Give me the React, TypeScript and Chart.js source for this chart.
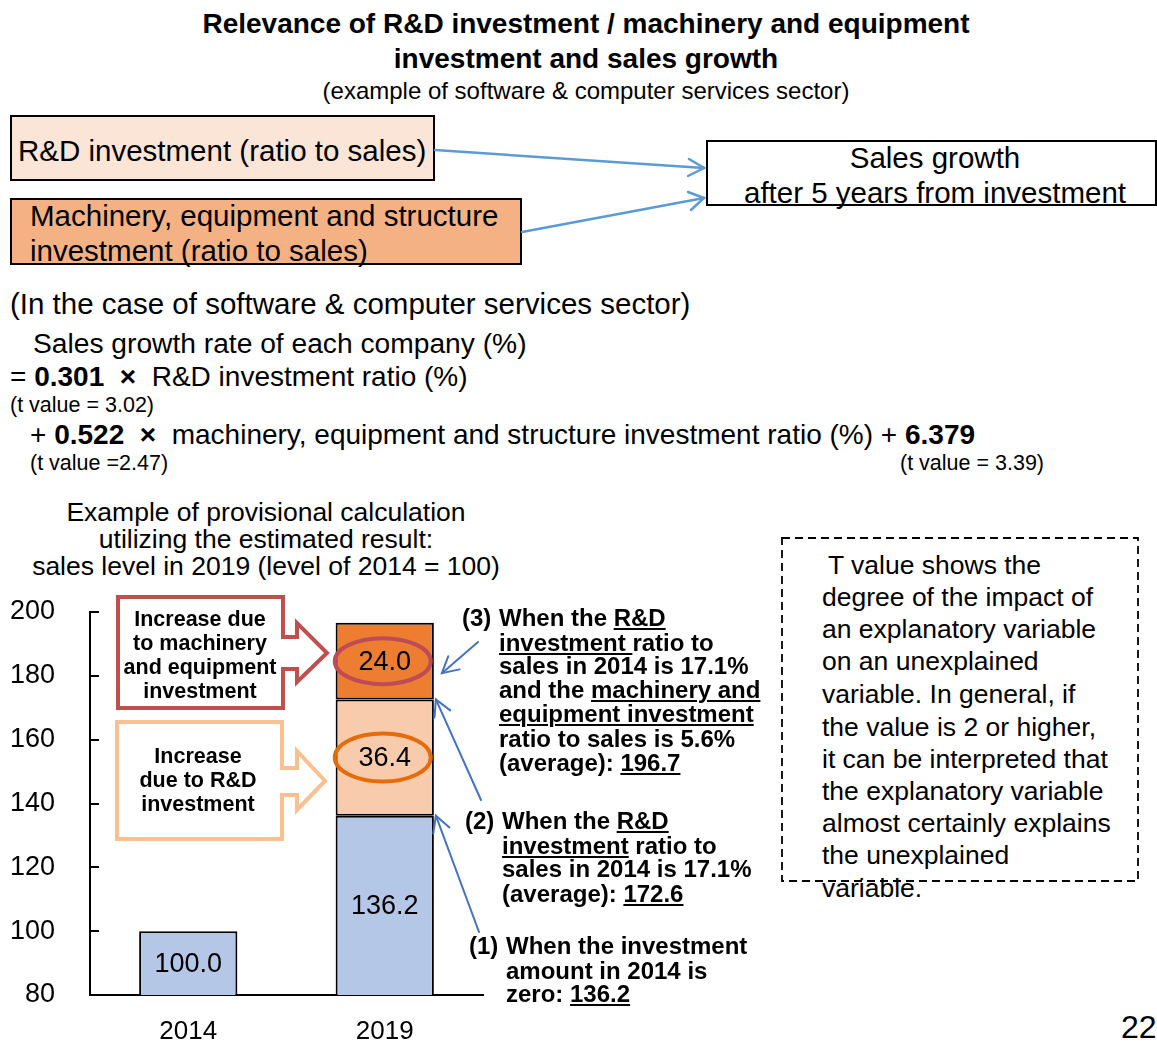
import React, { useEffect, useRef } from "react";
import { Chart, registerables } from "chart.js";

Chart.register(...registerables);

// ---------- data ----------
const categories = ["2014", "2019"];
const baseValues: (number | null)[] = [100.0, 136.2];
const rdIncrease: (number | null)[] = [null, 36.4];
const machineryIncrease: (number | null)[] = [null, 24.0];
const yTickValues = [80, 100, 120, 140, 160, 180, 200];

const FONT = '"Liberation Sans", Arial, Helvetica, sans-serif';
const OY = 590; // canvas top on the page
const CW = 780;
const CH = 460;

type LineProps = {
  x: number;
  y: number;
  size: number;
  bold?: boolean;
  center?: boolean;
  children: React.ReactNode;
};

function Line({ x, y, size, bold, center, children }: LineProps) {
  const lh = Math.round(size * 1.2);
  const style: React.CSSProperties = {
    position: "absolute",
    top: y - lh / 2,
    left: center ? x - 600 : x,
    width: center ? 1200 : undefined,
    textAlign: center ? "center" : "left",
    fontFamily: FONT,
    fontSize: size,
    fontWeight: bold ? 700 : 400,
    lineHeight: lh + "px",
    whiteSpace: "pre",
    color: "#000",
  };
  return <div style={style}>{children}</div>;
}

const U = ({ children }: { children: React.ReactNode }) => (
  <span style={{ textDecoration: "underline", textDecorationThickness: "2px", textUnderlineOffset: "2px" }}>{children}</span>
);
const B = ({ children }: { children: React.ReactNode }) => <span style={{ fontWeight: 700 }}>{children}</span>;

function drawArrow(ctx: CanvasRenderingContext2D, x1: number, y1: number, x2: number, y2: number, head: number, color: string, width: number) {
  ctx.save();
  ctx.strokeStyle = color;
  ctx.lineWidth = width;
  ctx.lineCap = "round";
  ctx.beginPath();
  ctx.moveTo(x1, y1);
  ctx.lineTo(x2, y2);
  ctx.stroke();
  const a = Math.atan2(y2 - y1, x2 - x1);
  const sp = 0.5;
  ctx.beginPath();
  ctx.moveTo(x2 - head * Math.cos(a - sp), y2 - head * Math.sin(a - sp));
  ctx.lineTo(x2, y2);
  ctx.lineTo(x2 - head * Math.cos(a + sp), y2 - head * Math.sin(a + sp));
  ctx.stroke();
  ctx.restore();
}

function drawCallout(ctx: CanvasRenderingContext2D, pts: number[][], color: string) {
  ctx.save();
  ctx.beginPath();
  pts.forEach((p, i) => (i === 0 ? ctx.moveTo(p[0], p[1] - OY) : ctx.lineTo(p[0], p[1] - OY)));
  ctx.closePath();
  ctx.fillStyle = "#fff";
  ctx.fill();
  ctx.strokeStyle = color;
  ctx.lineWidth = 4;
  ctx.lineJoin = "miter";
  ctx.stroke();
  ctx.restore();
}

const annotationPlugin = {
  id: "annotations",
  afterDatasetsDraw(chart: any) {
    const ctx: CanvasRenderingContext2D = chart.ctx;
    const ys = chart.scales.y;
    const area = chart.chartArea;

    // inward tick marks
    ctx.save();
    ctx.strokeStyle = "#000";
    ctx.lineWidth = 2;
    yTickValues.forEach((v, i) => {
      if (i === 0) return;
      const py = Math.round(ys.getPixelForValue(v));
      ctx.beginPath();
      ctx.moveTo(area.left, py);
      ctx.lineTo(area.left + 9, py);
      ctx.stroke();
    });
    ctx.restore();

    // callout boxes with arrows
    drawCallout(
      ctx,
      [[118, 597], [283, 597], [283, 637], [297, 637], [297, 623], [327, 653], [297, 682], [297, 669], [283, 669], [283, 708], [118, 708]],
      "#C0504D"
    );
    drawCallout(
      ctx,
      [[117, 722], [282, 722], [282, 768], [297, 768], [297, 751], [325, 781], [297, 810], [297, 795], [282, 795], [282, 839], [117, 839]],
      "#FAC090"
    );

    const mid = (el: any) => (el.y + Math.min(el.base, area.bottom)) / 2;

    // ellipses around increments
    const m1 = chart.getDatasetMeta(1).data[1];
    const m2 = chart.getDatasetMeta(2).data[1];
    ctx.save();
    ctx.lineWidth = 4;
    ctx.strokeStyle = "#E46C0A";
    ctx.beginPath();
    ctx.ellipse(m1.x - 2, mid(m1), 48, 24, 0, 0, Math.PI * 2);
    ctx.stroke();
    ctx.strokeStyle = "#BE4B55";
    ctx.beginPath();
    ctx.ellipse(m2.x - 2, mid(m2), 48, 23, 0, 0, Math.PI * 2);
    ctx.stroke();
    ctx.restore();

    // value labels
    ctx.save();
    ctx.font = `27px ${FONT}`;
    ctx.textAlign = "center";
    ctx.textBaseline = "middle";
    ctx.fillStyle = "#000";
    chart.data.datasets.forEach((ds: any, di: number) => {
      const meta = chart.getDatasetMeta(di);
      meta.data.forEach((el: any, i: number) => {
        const v = ds.data[i];
        if (v == null) return;
        ctx.fillText(v.toFixed(1), el.x, mid(el) + 1);
      });
    });
    ctx.restore();

    // pointer arrows from the explanations to the bar
    const m0 = chart.getDatasetMeta(0).data[1];
    const right = m0.x + m0.width / 2 + 2;
    const blue = "#4472C4";
    drawArrow(ctx, 478, 642 - OY, right + 6, mid(m2) + 12, 18, blue, 2);
    drawArrow(ctx, 481, 800 - OY, right, m1.y, 18, blue, 2);
    drawArrow(ctx, 479, 932 - OY, right, m0.y, 18, blue, 2);
  },
};

function BarChart() {
  const ref = useRef<HTMLCanvasElement | null>(null);
  useEffect(() => {
    if (!ref.current) return;
    const chart = new Chart(ref.current, {
      type: "bar",
      data: {
        labels: categories,
        datasets: [
          { label: "Base", data: baseValues, backgroundColor: "#B4C7E7" },
          { label: "R&D", data: rdIncrease, backgroundColor: "#F8CBAD" },
          { label: "Machinery", data: machineryIncrease, backgroundColor: "#ED7D31" },
        ].map((d) => ({
          ...d,
          borderColor: "#000",
          borderWidth: 2,
          borderSkipped: false,
          barPercentage: 1,
          categoryPercentage: 0.5,
        })),
      } as any,
      options: {
        responsive: false,
        animation: false,
        devicePixelRatio: 1,
        layout: { padding: { top: 22, right: CW - 483, left: 0, bottom: 0 } },
        plugins: { legend: { display: false }, tooltip: { enabled: false } },
        scales: {
          x: {
            stacked: true,
            grid: { display: true, drawOnChartArea: false, drawTicks: true, tickLength: 21, color: "rgba(0,0,0,0)" },
            border: { display: true, color: "#000", width: 2 },
            ticks: { color: "#000", font: { family: FONT, size: 26 }, padding: 0 },
            afterFit: (s: any) => {
              s.height = 55;
            },
          },
          y: {
            stacked: true,
            min: 80,
            max: 200,
            grid: { display: true, drawOnChartArea: false, drawTicks: true, tickLength: 35, color: "rgba(0,0,0,0)" },
            border: { display: true, color: "#000", width: 2 },
            afterBuildTicks: (s: any) => {
              s.ticks = yTickValues.map((v) => ({ value: v }));
            },
            ticks: { color: "#000", font: { family: FONT, size: 27 }, padding: 0 },
            afterFit: (s: any) => {
              s.width = 90;
            },
          },
        },
      } as any,
      plugins: [annotationPlugin],
    });
    return () => chart.destroy();
  }, []);
  return (
    <canvas ref={ref} width={CW} height={CH} style={{ position: "absolute", left: 0, top: OY, width: CW, height: CH }} />
  );
}

const boxBase: React.CSSProperties = {
  position: "absolute",
  boxSizing: "border-box",
  border: "2px solid #000",
};

export default function App() {
  const tBox = [
    "degree of the impact of",
    "an explanatory variable",
    "on an unexplained",
    "variable. In general, if",
    "the value is 2 or higher,",
    "it can be interpreted that",
    "the explanatory variable",
    "almost certainly explains",
    "the unexplained",
    "variable.",
  ];
  const tBoxY = [597, 629, 661, 694, 727, 759, 791, 823, 855, 888];

  return (
    <div style={{ position: "absolute", left: 0, top: 0, width: 1157, height: 1050, background: "#fff", overflow: "hidden" }}>
      {/* title */}
      <Line x={586} y={24} size={28} bold center>Relevance of R&amp;D investment / machinery and equipment</Line>
      <Line x={586} y={59} size={28} bold center>investment and sales growth</Line>
      <Line x={586} y={90} size={24} center>(example of software &amp; computer services sector)</Line>

      {/* top boxes */}
      <div style={{ ...boxBase, left: 10, top: 115, width: 425, height: 66, background: "#FBE5D6" }} />
      <div style={{ ...boxBase, left: 10, top: 198, width: 512, height: 67, background: "#F4B183" }} />
      <div style={{ ...boxBase, left: 706, top: 140, width: 451, height: 66, background: "#fff" }} />
      <svg width={1157} height={1050} style={{ position: "absolute", left: 0, top: 0, pointerEvents: "none" }}>
        <g stroke="#5B9BD5" strokeWidth={2.5} fill="none" strokeLinecap="round">
          <line x1={435} y1={150} x2={704} y2={168} />
          <polyline points="689,159 704,168 688,176" />
          <line x1={522} y1={232} x2={704} y2={198} />
          <polyline points="688,192 704,198 691,210" />
        </g>
        <rect x={782} y={538} width={356} height={343} fill="none" stroke="#000" strokeWidth={1.8} strokeDasharray="8 5" />
      </svg>
      <Line x={18} y={150} size={29.5}>R&amp;D investment (ratio to sales)</Line>
      <Line x={30} y={215} size={29.5}>Machinery, equipment and structure</Line>
      <Line x={30} y={250} size={29.5}>investment (ratio to sales)</Line>
      <Line x={935} y={157} size={29.5} center>Sales growth</Line>
      <Line x={935} y={192} size={29.5} center>after 5 years from investment</Line>

      {/* equation */}
      <Line x={10} y={303} size={29.5}>(In the case of software &amp; computer services sector)</Line>
      <Line x={33} y={343} size={28.2}>Sales growth rate of each company (%)</Line>
      <Line x={10} y={377} size={28}>= <B>0.301</B>  <B>×</B>  R&amp;D investment ratio (%)</Line>
      <Line x={10} y={405} size={21.5}>(t value = 3.02)</Line>
      <Line x={30} y={435} size={28}>+ <B>0.522</B>  <B>×</B>  machinery, equipment and structure investment ratio (%) + <B>6.379</B></Line>
      <Line x={30} y={463} size={21.5}>(t value =2.47)</Line>
      <Line x={900} y={463} size={21.5}>(t value = 3.39)</Line>

      {/* chart heading */}
      <Line x={266} y={512} size={26.5} center>Example of provisional calculation</Line>
      <Line x={266} y={539} size={26.5} center>utilizing the estimated result:</Line>
      <Line x={266} y={566} size={26.5} center>sales level in 2019 (level of 2014 = 100)</Line>

      <BarChart />

      {/* callout texts */}
      <Line x={200} y={619} size={21.5} bold center>Increase due</Line>
      <Line x={200} y={643} size={21.5} bold center>to machinery</Line>
      <Line x={200} y={667} size={21.5} bold center>and equipment</Line>
      <Line x={200} y={691} size={21.5} bold center>investment</Line>
      <Line x={198} y={756} size={21.5} bold center>Increase</Line>
      <Line x={198} y={780} size={21.5} bold center>due to R&amp;D</Line>
      <Line x={198} y={804} size={21.5} bold center>investment</Line>

      {/* explanation (3) */}
      <Line x={462} y={617} size={24} bold>(3)</Line>
      <Line x={499} y={617} size={24} bold>When the <U>R&amp;D</U></Line>
      <Line x={499} y={642} size={24} bold><U>investment </U>ratio to</Line>
      <Line x={499} y={665} size={24} bold>sales in 2014 is 17.1%</Line>
      <Line x={499} y={689} size={24} bold>and the <U>machinery and</U></Line>
      <Line x={499} y={713} size={24} bold><U>equipment investment</U></Line>
      <Line x={499} y={738} size={24} bold>ratio to sales is 5.6%</Line>
      <Line x={499} y={762} size={24} bold>(average): <U>196.7</U></Line>

      {/* explanation (2) */}
      <Line x={465} y={820} size={24} bold>(2)</Line>
      <Line x={502} y={820} size={24} bold>When the <U>R&amp;D</U></Line>
      <Line x={502} y={845} size={24} bold><U>investment</U> ratio to</Line>
      <Line x={502} y={868} size={24} bold>sales in 2014 is 17.1%</Line>
      <Line x={502} y={893} size={24} bold>(average): <U>172.6</U></Line>

      {/* explanation (1) */}
      <Line x={469} y={945} size={24} bold>(1)</Line>
      <Line x={506} y={945} size={24} bold>When the investment</Line>
      <Line x={506} y={970} size={24} bold>amount in 2014 is</Line>
      <Line x={506} y={993} size={24} bold>zero: <U>136.2</U></Line>

      {/* T value note */}
      <Line x={828} y={565} size={26.5}>T value shows the</Line>
      {tBox.map((t, i) => (
        <Line key={i} x={822} y={tBoxY[i]} size={26.5}>{t}</Line>
      ))}

      <Line x={1121} y={1027} size={32}>22</Line>
    </div>
  );
}
